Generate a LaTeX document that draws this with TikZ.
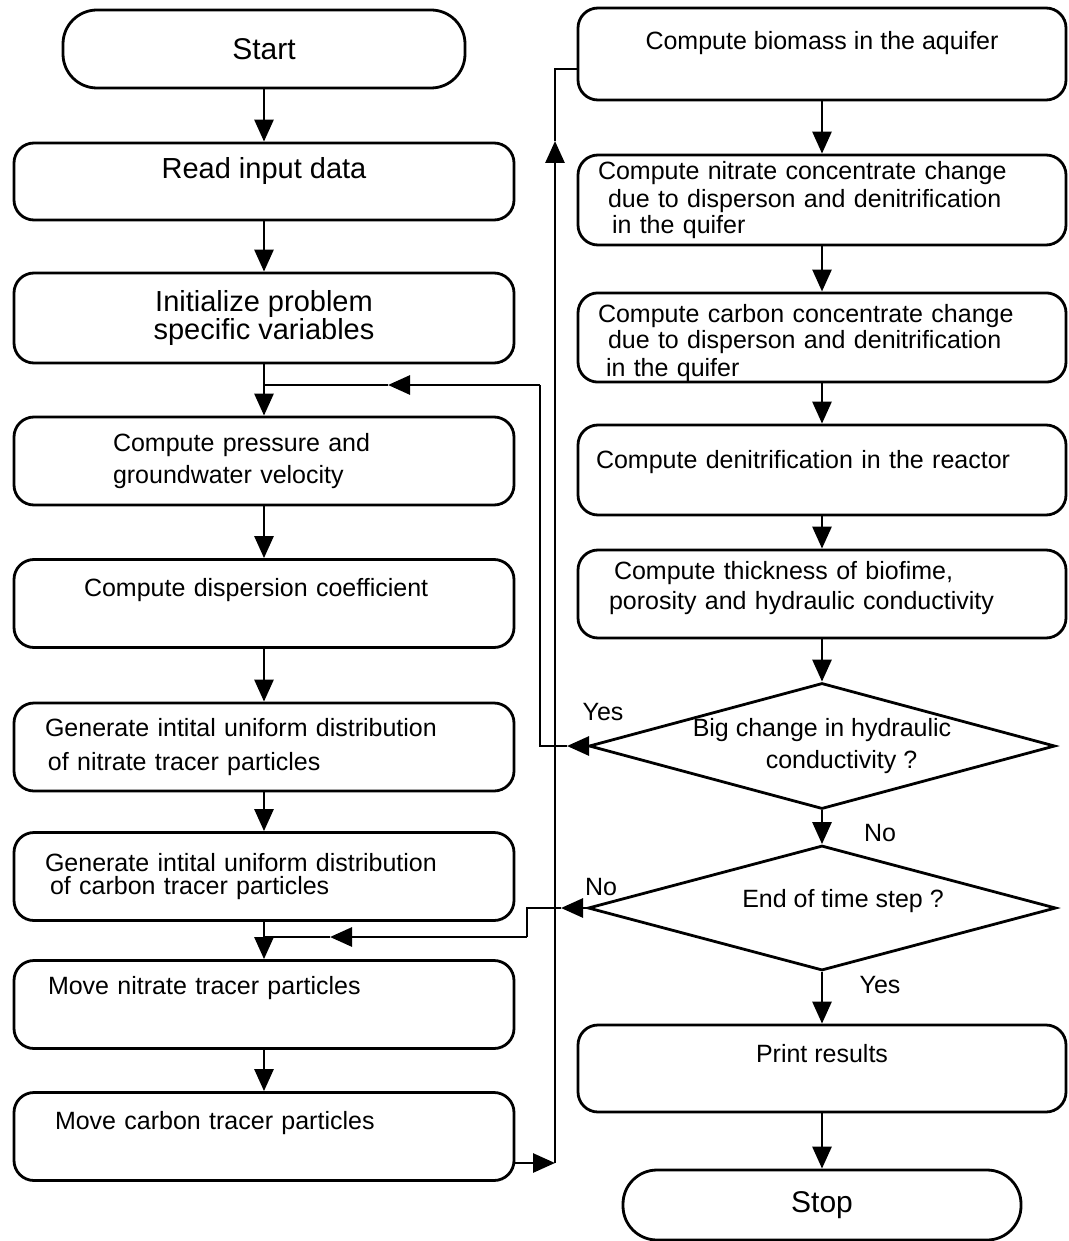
\documentclass[tikz,border=0pt]{standalone}
\usepackage{fontspec}
\setmainfont{Liberation Sans}
\usetikzlibrary{arrows.meta,shapes.geometric}

\newcommand{\lift}[1]{\rule[-#1]{0pt}{#1}}

\begin{document}
\begin{tikzpicture}[x=0.5pt, y=-0.5pt, >={Triangle[width=9.5pt,length=11pt]}, line width=1.4pt,
font=\fontsize{12.5}{15}\selectfont,
box/.style={rectangle, draw, rounded corners=10pt, minimum width=250pt, minimum height=44pt, inner sep=0pt},
term/.style={rectangle, draw, rounded corners=17pt, minimum width=201pt, minimum height=39pt, font=\fontsize{15}{18}\selectfont},
test/.style={diamond, draw, aspect=3.66, minimum width=233pt, minimum height=63pt, inner sep=0pt},
big/.style={font=\fontsize{14.5}{17}\selectfont},
lbl/.style={inner sep=0pt}]
  \useasboundingbox (0,0) rectangle (1069,1241);
  \node[term] (start) at (264,49) {Start};
  \node[box, big, minimum height=38.5pt] (read) at (264,181.5) {Read input data\lift{14pt}};
  \node[box, big, minimum height=45pt, align=center] (init) at (264,318) {Initialize problem\\[-3pt]specific variables};
  \node[box, text width=151pt, align=left] (press) at (264,461) {Compute pressure and\\[1pt]groundwater velocity};
  \node[box, text width=180pt, align=left] (disp) at (264,603.5) {Compute dispersion coefficient\lift{16pt}};
  \node[box, text width=219pt, align=left] (gennit) at (264,747) {Generate intital uniform distribution\\[2pt]\hspace*{1.5pt}of nitrate tracer particles};
  \node[box, text width=219pt, align=left] (gencarb) at (264,876.5) {Generate intital uniform distribution\\[-3.5pt]\hspace*{2.5pt}of carbon tracer particles};
  \node[box, text width=216pt, align=left] (movnit) at (264,1004.5) {Move nitrate tracer particles\lift{19pt}};
  \node[box, text width=209pt, align=left] (movcarb) at (264,1136.5) {Move carbon tracer particles\lift{16pt}};

  \node[box, minimum width=244pt, minimum height=46pt] (biomass) at (822,54) {Compute biomass in the aquifer\lift{14pt}};
  \node[box, minimum width=244pt, minimum height=45pt, text width=224pt, align=left] (nitconc) at (822,200) {Compute nitrate concentrate change\\[-1pt]\hspace*{5pt}due to disperson and denitrification\\[-2pt]\hspace*{7pt}in the quifer};
  \node[box, minimum width=244pt, minimum height=42.5pt, text width=224pt, align=left] (carbconc) at (822,337.5) {\rule{0pt}{15pt}Compute carbon concentrate change\\[-2pt]\hspace*{5pt}due to disperson and denitrification\\[-1pt]\hspace*{4pt}in the quifer};
  \node[box, minimum width=244pt, minimum height=45pt, text width=226pt, align=left] (reactor) at (822,470) {Compute denitrification in the reactor\lift{11pt}};
  \node[box, minimum width=244pt, text width=213pt, align=left] (thick) at (822,594) {\hspace*{2.5pt}Compute thickness of biofime,\\porosity and hydraulic conductivity\lift{9pt}};
  \node[test, align=left] (bigchg) at (822,746) {Big change in hydraulic\\[1pt]\hspace*{36.5pt}conductivity ?};
  \node[test, minimum width=234pt, minimum height=62.5pt] (endstep) at (822,908) {\hspace*{21pt}End of time step ?\lift{10pt}};
  \node[box, minimum width=244pt, minimum height=43.5pt] (print) at (822,1068.5) {Print results\lift{15pt}};
  \node[term, minimum width=199pt, minimum height=35pt] (stop) at (822,1205) {Stop};

  \node[lbl] (yes1) at (603,712) {Yes};
  \node[lbl] (no1) at (880,833) {No};
  \node[lbl] (no2) at (601,887) {No};
  \node[lbl] (yes2) at (880,985) {Yes};

  \coordinate (yesA) at (567,746);
  \coordinate (yesB) at (540,385);
  \coordinate (yesC) at (388,385);
  \coordinate (yesD) at (264,385);
  \coordinate (noA) at (561,908);
  \coordinate (noB) at (527,937);
  \coordinate (noC) at (330,937);
  \coordinate (noD) at (264,937);
  \coordinate (upA) at (555,1163);
  \coordinate (upB) at (555,141);
  \coordinate (upC) at (555,69);

  \path[->]
    (start) edge (read)
    (read) edge (init)
    (init) edge (press)
    (press) edge (disp)
    (disp) edge (gennit)
    (gennit) edge (gencarb)
    (gencarb) edge (movnit)
    (movnit) edge (movcarb)
    (biomass) edge (nitconc)
    (nitconc) edge (carbconc)
    (carbconc) edge (reactor)
    (reactor) edge (thick)
    (thick) edge (bigchg)
    (bigchg) edge (endstep)
    (endstep) edge (print)
    (print) edge (stop);

  \draw[->] (bigchg.west) -- (yesA);
  \draw (yesA) -| (yesB);
  \draw[->] (yesB) -- (yesC);
  \draw (yesC) -- (yesD);

  \draw[->] (endstep.west) -- (noA);
  \draw (noA) -| (noB);
  \draw[->] (noB) -- (noC);
  \draw (noC) -- (noD);

  \draw[->] (movcarb.east |- upA) -- (upA);
  \draw[->] (upA) -- (upB);
  \draw (upB) -- (upC) -- (biomass.west |- upC);
\end{tikzpicture}
\end{document}
